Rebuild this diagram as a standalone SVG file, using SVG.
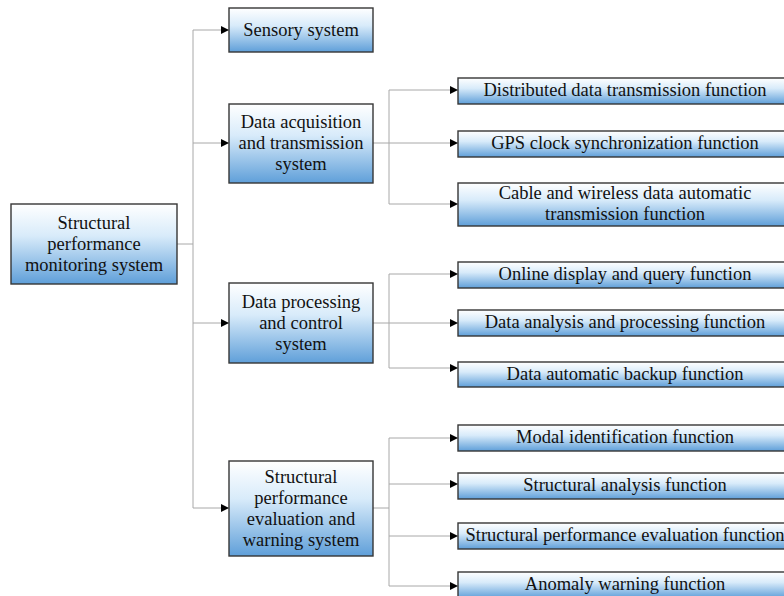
<svg xmlns="http://www.w3.org/2000/svg" width="784" height="596" viewBox="0 0 784 596">
<defs>
<linearGradient id="g" x1="0" y1="0" x2="0" y2="1">
<stop offset="0" stop-color="#ffffff"/>
<stop offset="0.4" stop-color="#d8ebfa"/>
<stop offset="1" stop-color="#5f9fd9"/>
</linearGradient>
<marker id="ah" markerWidth="9" markerHeight="9" refX="8" refY="4" orient="auto" markerUnits="userSpaceOnUse">
<path d="M0,0 L8,4 L0,8 Z" fill="#000"/>
</marker>
<style>
.box{fill:url(#g);stroke:#363636;stroke-width:1.4}
.t{font-family:'Liberation Serif','DejaVu Serif',serif;font-size:18.5px;fill:#111;text-anchor:middle}
.c{fill:none;stroke:#a8a8a8;stroke-width:1}
.a{marker-end:url(#ah)}
</style>
</defs>
<rect width="784" height="596" fill="#fff"/>

<g id="connectors">
<path class="c" d="M177,244 H193"/>
<path class="c" d="M193,30 V508"/>
<path class="c a" d="M193,30 H229"/>
<path class="c a" d="M193,143 H229"/>
<path class="c a" d="M193,323 H229"/>
<path class="c a" d="M193,508 H229"/>

<path class="c" d="M373,143 H389"/>
<path class="c" d="M389,90 V204"/>
<path class="c a" d="M389,90 H458"/>
<path class="c a" d="M389,143 H458"/>
<path class="c a" d="M389,204 H458"/>

<path class="c" d="M373,323 H389"/>
<path class="c" d="M389,274 V368"/>
<path class="c a" d="M389,274 H458"/>
<path class="c a" d="M389,323 H458"/>
<path class="c a" d="M389,368 H458"/>

<path class="c" d="M373,508 H389"/>
<path class="c" d="M389,438 V586"/>
<path class="c a" d="M389,438 H458"/>
<path class="c a" d="M389,484 H458"/>
<path class="c a" d="M389,536 H458"/>
<path class="c a" d="M389,586 H458"/>
</g>

<g font-family="Liberation Serif, DejaVu Serif, serif">
<g id="root">
<rect class="box" x="11" y="204" width="166" height="80"/>
<text class="t" x="94" y="229">Structural</text>
<text class="t" x="94" y="250">performance</text>
<text class="t" x="94" y="271">monitoring system</text>
</g>

<g id="sensory">
<rect class="box" x="229" y="8" width="144" height="44"/>
<text class="t" x="301" y="36">Sensory system</text>
</g>

<g id="acquisition">
<rect class="box" x="229" y="104" width="144" height="79"/>
<text class="t" x="301" y="128">Data acquisition</text>
<text class="t" x="301" y="149">and transmission</text>
<text class="t" x="301" y="170">system</text>
</g>

<g id="processing">
<rect class="box" x="229" y="283" width="144" height="80"/>
<text class="t" x="301" y="308">Data processing</text>
<text class="t" x="301" y="329">and control</text>
<text class="t" x="301" y="350">system</text>
</g>

<g id="evaluation">
<rect class="box" x="229" y="461" width="144" height="95"/>
<text class="t" x="301" y="483">Structural</text>
<text class="t" x="301" y="504">performance</text>
<text class="t" x="301" y="525">evaluation and</text>
<text class="t" x="301" y="546">warning system</text>
</g>

<g id="f-distributed">
<rect class="box" x="458" y="78" width="334" height="26"/>
<text class="t" x="625" y="96">Distributed data transmission function</text>
</g>
<g id="f-gps">
<rect class="box" x="458" y="131" width="334" height="26"/>
<text class="t" x="625" y="149">GPS clock synchronization function</text>
</g>
<g id="f-cable">
<rect class="box" x="458" y="183" width="334" height="43"/>
<text class="t" x="625" y="199">Cable and wireless data automatic</text>
<text class="t" x="625" y="220">transmission function</text>
</g>

<g id="f-online">
<rect class="box" x="458" y="262" width="334" height="26"/>
<text class="t" x="625" y="280">Online display and query function</text>
</g>
<g id="f-analysis">
<rect class="box" x="458" y="310" width="334" height="26"/>
<text class="t" x="625" y="328">Data analysis and processing function</text>
</g>
<g id="f-backup">
<rect class="box" x="458" y="362" width="334" height="25"/>
<text class="t" x="625" y="380">Data automatic backup function</text>
</g>

<g id="f-modal">
<rect class="box" x="458" y="425" width="334" height="26"/>
<text class="t" x="625" y="443">Modal identification function</text>
</g>
<g id="f-structural">
<rect class="box" x="458" y="473" width="334" height="26"/>
<text class="t" x="625" y="491">Structural analysis function</text>
</g>
<g id="f-spe">
<rect class="box" x="458" y="523" width="334" height="26"/>
<text class="t" x="625" y="541">Structural performance evaluation function</text>
</g>
<g id="f-anomaly">
<rect class="box" x="458" y="572" width="334" height="26"/>
<text class="t" x="625" y="590">Anomaly warning function</text>
</g>
</g>
</svg>
